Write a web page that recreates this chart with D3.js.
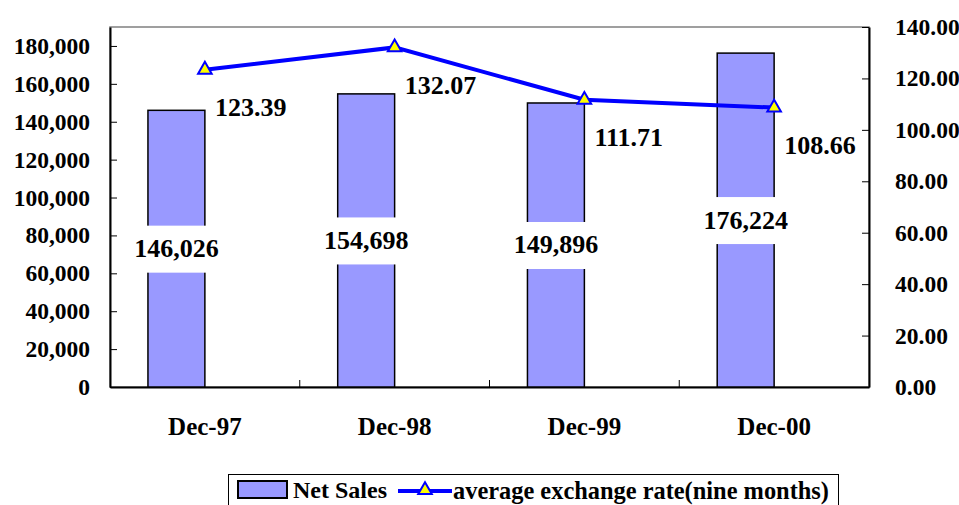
<!DOCTYPE html>
<html>
<head>
<meta charset="utf-8">
<script src="https://d3js.org/d3.v7.min.js"></script>
<style>
    body { margin: 0; background: #fff; }
    text { font-family: "Liberation Serif", "Times New Roman", serif; font-weight: bold; fill: #000; }
</style>
</head>
<body>
<div id="chart"></div>
<script>
// data
var categories = ['Dec-97', 'Dec-98', 'Dec-99', 'Dec-00'];
var netSales = [146026, 154698, 149896, 176224];
var exchangeRate = [123.39, 132.07, 111.71, 108.66];
var leftTicks = [0, 20000, 40000, 60000, 80000, 100000, 120000, 140000, 160000, 180000];
var rightTicks = [0, 20, 40, 60, 80, 100, 120, 140];
var seriesNames = ['Net Sales', 'average exchange rate(nine months)'];

function buildChart(containerId) {
    var width = 959;
    var height = 505;

    var plot = { left: 110, right: 869, top: 27, bottom: 387 };

    var svg = d3
        .select(containerId)
        .append('svg')
        .attr('width', width)
        .attr('height', height);

    var x = d3.scaleBand()
        .domain(categories)
        .range([plot.left, plot.right])
        .paddingInner(0)
        .paddingOuter(0);

    var yLeft = d3.scaleLinear()
        .domain([0, 190000])
        .range([plot.bottom, plot.top]);

    var yRight = d3.scaleLinear()
        .domain([0, 140])
        .range([plot.bottom, plot.top]);

    var barWidth = x.bandwidth() * 0.3;
    var center = function (c) { return x(c) + x.bandwidth() / 2; };

    // plot frame
    svg.append('rect')
        .attr('x', plot.left)
        .attr('y', plot.top)
        .attr('width', plot.right - plot.left)
        .attr('height', plot.bottom - plot.top)
        .style('fill', 'none')
        .style('stroke', '#808080')
        .style('stroke-width', 1.5);

    // left axis
    var leftAxis = d3.axisLeft(yLeft)
        .tickValues(leftTicks)
        .tickFormat(d3.format(','))
        .tickSizeInner(-7)
        .tickSizeOuter(0)
        .tickPadding(20);

    var gl = svg.append('g')
        .attr('transform', 'translate(' + plot.left + ',0)')
        .call(leftAxis);
    gl.select('.domain').style('stroke', '#000').style('stroke-width', 2);
    gl.selectAll('line').style('stroke', '#000').style('stroke-width', 1);
    gl.selectAll('text')
        .style('font-size', '23.5px')
        .style('font-family', '"Liberation Serif", serif')
        .style('font-weight', 'bold');

    // right axis
    var rightAxis = d3.axisRight(yRight)
        .tickValues(rightTicks)
        .tickFormat(d3.format('.2f'))
        .tickSizeInner(-7)
        .tickSizeOuter(0)
        .tickPadding(26);

    var gr = svg.append('g')
        .attr('transform', 'translate(' + plot.right + ',0)')
        .call(rightAxis);
    gr.select('.domain').style('stroke', '#000').style('stroke-width', 2);
    gr.selectAll('line').style('stroke', '#000').style('stroke-width', 1);
    gr.selectAll('text')
        .style('font-size', '23.5px')
        .style('font-family', '"Liberation Serif", serif')
        .style('font-weight', 'bold');

    // bottom axis
    var bottomAxis = d3.axisBottom(x)
        .tickSize(0)
        .tickPadding(30);

    var gb = svg.append('g')
        .attr('transform', 'translate(0,' + plot.bottom + ')')
        .call(bottomAxis);
    gb.select('.domain').style('stroke', '#000').style('stroke-width', 2);
    gb.selectAll('text')
        .style('font-size', '25px')
        .style('font-family', '"Liberation Serif", serif')
        .style('font-weight', 'bold');

    // category separator ticks
    gb.selectAll('.sep')
        .data(categories.slice(1))
        .enter()
        .append('line')
        .attr('class', 'sep')
        .attr('x1', function (d) { return x(d); })
        .attr('x2', function (d) { return x(d); })
        .attr('y1', 0)
        .attr('y2', -7)
        .style('stroke', '#000')
        .style('stroke-width', 1);

    // bars
    svg.append('g')
        .selectAll('rect')
        .data(netSales)
        .enter()
        .append('rect')
        .attr('x', function (d, i) { return center(categories[i]) - barWidth; })
        .attr('y', function (d) { return yLeft(d); })
        .attr('width', barWidth)
        .attr('height', function (d) { return plot.bottom - yLeft(d); })
        .style('fill', '#9999FF')
        .style('stroke', '#000')
        .style('stroke-width', 1.5);

    // bar labels with white background
    var barLabels = svg.append('g')
        .selectAll('g')
        .data(netSales)
        .enter()
        .append('g')
        .attr('transform', function (d, i) {
            return 'translate(' + (center(categories[i]) - barWidth / 2) + ',' + ((yLeft(d) + plot.bottom) / 2) + ')';
        });

    barLabels.append('rect')
        .attr('x', -48)
        .attr('y', -23)
        .attr('width', 96)
        .attr('height', 47)
        .style('fill', '#fff');

    barLabels.append('text')
        .attr('text-anchor', 'middle')
        .attr('dominant-baseline', 'central')
        .style('font-size', '26px')
        .text(function (d) { return d3.format(',')(d); });

    // exchange rate line
    var line = d3.line()
        .x(function (d, i) { return center(categories[i]); })
        .y(function (d) { return yRight(d); });

    svg.append('path')
        .datum(exchangeRate)
        .attr('d', line)
        .style('fill', 'none')
        .style('stroke', '#0000FF')
        .style('stroke-width', 4);

    var tri = d3.symbol().type(d3.symbolTriangle).size(80);

    svg.append('g')
        .selectAll('path')
        .data(exchangeRate)
        .enter()
        .append('path')
        .attr('d', tri)
        .attr('transform', function (d, i) {
            return 'translate(' + center(categories[i]) + ',' + yRight(d) + ')';
        })
        .style('fill', '#FFFF00')
        .style('stroke', '#0000FF')
        .style('stroke-width', 2);

    svg.append('g')
        .selectAll('text')
        .data(exchangeRate)
        .enter()
        .append('text')
        .attr('x', function (d, i) { return center(categories[i]) + 10; })
        .attr('y', function (d) { return yRight(d) + 38; })
        .attr('dominant-baseline', 'central')
        .style('font-size', '26px')
        .text(function (d) { return d3.format('.2f')(d); });

    // legend
    var legend = svg.append('g');

    legend.append('rect')
        .attr('x', 228.5)
        .attr('y', 474.5)
        .attr('width', 610)
        .attr('height', 40)
        .style('fill', '#fff')
        .style('stroke', '#000')
        .style('stroke-width', 1);

    legend.append('rect')
        .attr('x', 238)
        .attr('y', 481)
        .attr('width', 49)
        .attr('height', 17)
        .style('fill', '#9999FF')
        .style('stroke', '#000')
        .style('stroke-width', 2);

    legend.append('text')
        .attr('x', 293)
        .attr('y', 490)
        .attr('dominant-baseline', 'central')
        .style('font-size', '24px')
        .text(seriesNames[0]);

    legend.append('line')
        .attr('x1', 398)
        .attr('x2', 452)
        .attr('y1', 491)
        .attr('y2', 491)
        .style('stroke', '#0000FF')
        .style('stroke-width', 4);

    legend.append('path')
        .attr('d', tri)
        .attr('transform', 'translate(425,490)')
        .style('fill', '#FFFF00')
        .style('stroke', '#0000FF')
        .style('stroke-width', 2);

    legend.append('text')
        .attr('x', 453)
        .attr('y', 490)
        .attr('dominant-baseline', 'central')
        .style('font-size', '24.4px')
        .text(seriesNames[1]);
}

buildChart('#chart');
</script>
</body>
</html>
